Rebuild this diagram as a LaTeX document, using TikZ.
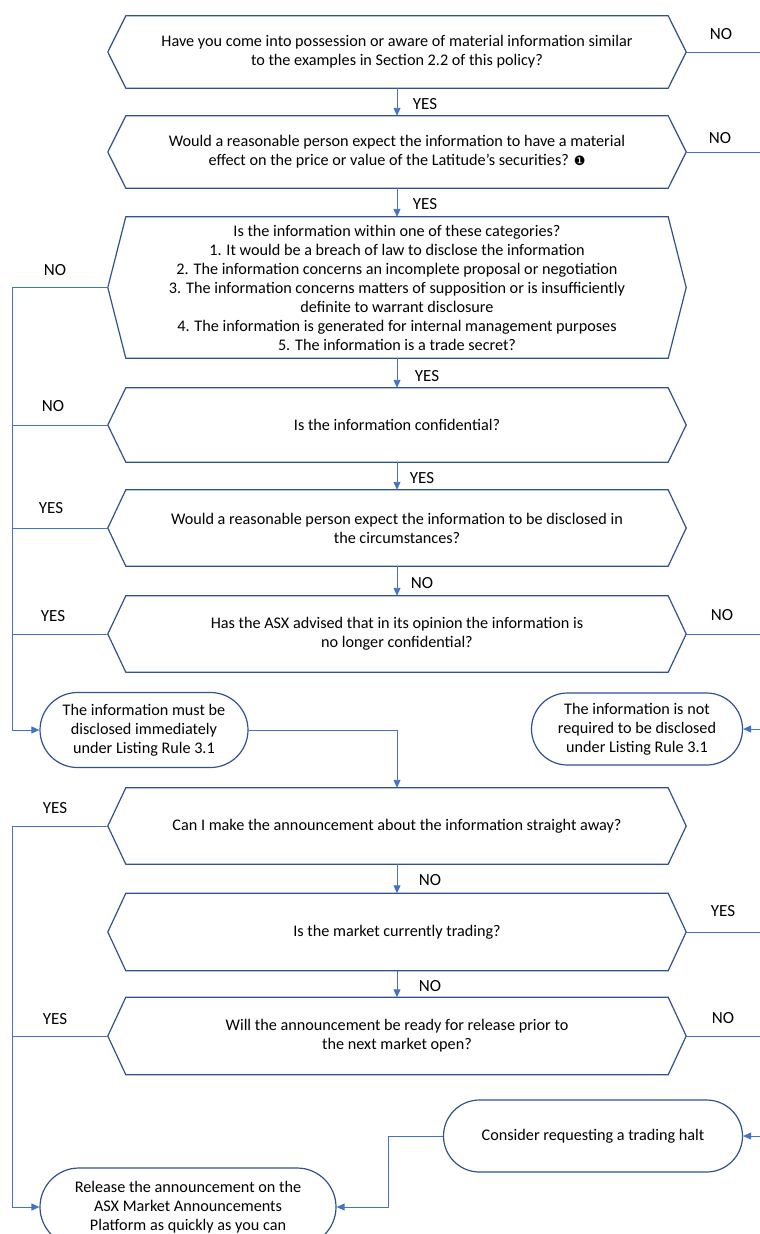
\documentclass[tikz,border=0pt]{standalone}
\usepackage{fontspec}
\setmainfont{Carlito}
\newfontfamily\dingfont{DejaVu Sans}
\usetikzlibrary{arrows.meta,shapes.misc}
\definecolor{boxblue}{HTML}{2F528F}
\definecolor{lineblue}{HTML}{4472C4}
\tikzset{
  question/.style={draw=none,minimum width=542pt,align=center,inner sep=0pt,font=\fontsize{16.2}{19}\selectfont},
  terminal/.style={rounded rectangle,draw=boxblue,line width=1.2pt,align=center,inner sep=0pt,font=\fontsize{16.2}{19}\selectfont},
  edge/.style={boxblue,line width=1.2pt},
  flow/.style={lineblue,line width=0.9pt},
  flowarrow/.style={flow,-{Triangle[length=8pt,width=7pt]}},
  answer/.style={font=\fontsize{17}{19}\selectfont}
}

\begin{document}
\begin{tikzpicture}[x=1pt,y=-1pt]
    \useasboundingbox (0,0) rectangle (760,1234);

    \node[question,minimum height=72pt] (q1) at (397,52) {Have you come into possession or aware of material information similar\\to the examples in Section 2.2 of this policy?};
    \node[question,minimum height=72pt] (q2) at (397,152) {Would a reasonable person expect the information to have a material\\effect on the price or value of the Latitude's securities? {\dingfont\fontsize{13}{19}\selectfont ❶}};
    \node[question,minimum height=141pt] (q3) at (397,287.5) {Is the information within one of these categories?\\1. It would be a breach of law to disclose the information\\2. The information concerns an incomplete proposal or negotiation\\3. The information concerns matters of supposition or is insufficiently\\definite to warrant disclosure\\4. The information is generated for internal management purposes\\5. The information is a trade secret?};
    \node[question,minimum height=74pt] (q4) at (397,425) {Is the information confidential?};
    \node[question,minimum height=76pt] (q5) at (397,528) {Would a reasonable person expect the information to be disclosed in\\the circumstances?};
    \node[question,minimum height=76pt] (q6) at (397,634) {Has the ASX advised that in its opinion the information is\\no longer confidential?};
    \node[question,minimum height=76pt] (q7) at (397,826) {Can I make the announcement about the information straight away?};
    \node[question,minimum height=77pt] (q8) at (397,932) {Is the market currently trading?};
    \node[question,minimum height=77pt] (q9) at (397,1036) {Will the announcement be ready for release prior to\\the next market open?};

    \foreach \q in {q1,q2,q3,q4,q5,q6,q7,q8,q9} {
        \draw[edge] (\q.north west) -- (\q.north east) -- ([xshift=18pt]\q.east) coordinate (\q-r) -- (\q.south east) -- (\q.south west) -- ([xshift=-18pt]\q.west) coordinate (\q-l) -- cycle;
    }

    \node[terminal,minimum width=208pt,minimum height=75pt] (tA) at (144,730) {The information must be\\disclosed immediately\\under Listing Rule 3.1};
    \node[terminal,minimum width=211pt,minimum height=72pt] (tB) at (637,729) {The information is not\\required to be disclosed\\under Listing Rule 3.1};
    \node[terminal,minimum width=299pt,minimum height=72pt] (tC) at (593,1136) {Consider requesting a trading halt};
    \node[terminal,minimum width=296pt,minimum height=78pt] (tD) at (188,1207) {Release the announcement on the\\ASX Market Announcements\\Platform as quickly as you can};

    \coordinate (leftbus) at (12,0);
    \coordinate (rightbus) at (761,0);

    \draw[flowarrow] (q1.south) -- (q2.north); \node[answer] at (425,104) {YES};
    \draw[flowarrow] (q2.south) -- (q3.north); \node[answer] at (425,204) {YES};
    \draw[flowarrow] (q3.south) -- (q4.north); \node[answer] at (427,376) {YES};
    \draw[flowarrow] (q4.south) -- (q5.north); \node[answer] at (422,478) {YES};
    \draw[flowarrow] (q5.south) -- (q6.north); \node[answer] at (422,583) {NO};
    \draw[flowarrow] (tA.east) -| (q7.north);
    \draw[flowarrow] (q7.south) -- (q8.north); \node[answer] at (430,880) {NO};
    \draw[flowarrow] (q8.south) -- (q9.north); \node[answer] at (430,986) {NO};

    \draw[flowarrow] (q3-l) -- (q3-l -| leftbus) |- (tA.west); \node[answer] at (55,270) {NO};
    \draw[flow] (q4-l) -- (q4-l -| leftbus); \node[answer] at (53,406) {NO};
    \draw[flow] (q5-l) -- (q5-l -| leftbus); \node[answer] at (51,508) {YES};
    \draw[flow] (q6-l) -- (q6-l -| leftbus); \node[answer] at (53,616) {YES};

    \draw[flowarrow] (q1-r) -- (q1-r -| rightbus) |- (tB.east); \node[answer] at (721,34) {NO};
    \draw[flow] (q2-r) -- (q2-r -| rightbus); \node[answer] at (720,138) {NO};
    \draw[flow] (q6-r) -- (q6-r -| rightbus); \node[answer] at (722,615) {NO};

    \draw[flowarrow] (q7-l) -- (q7-l -| leftbus) |- (tD.west); \node[answer] at (55,808) {YES};
    \draw[flow] (q9-l) -- (q9-l -| leftbus); \node[answer] at (55,1019) {YES};

    \draw[flowarrow] (q8-r) -- (q8-r -| rightbus) |- (tC.east); \node[answer] at (723,911) {YES};
    \draw[flow] (q9-r) -- (q9-r -| rightbus); \node[answer] at (723,1018) {NO};

    \draw[flowarrow] (tC.west) -- ++(-54,0) |- (tD.east);
\end{tikzpicture}
\end{document}
